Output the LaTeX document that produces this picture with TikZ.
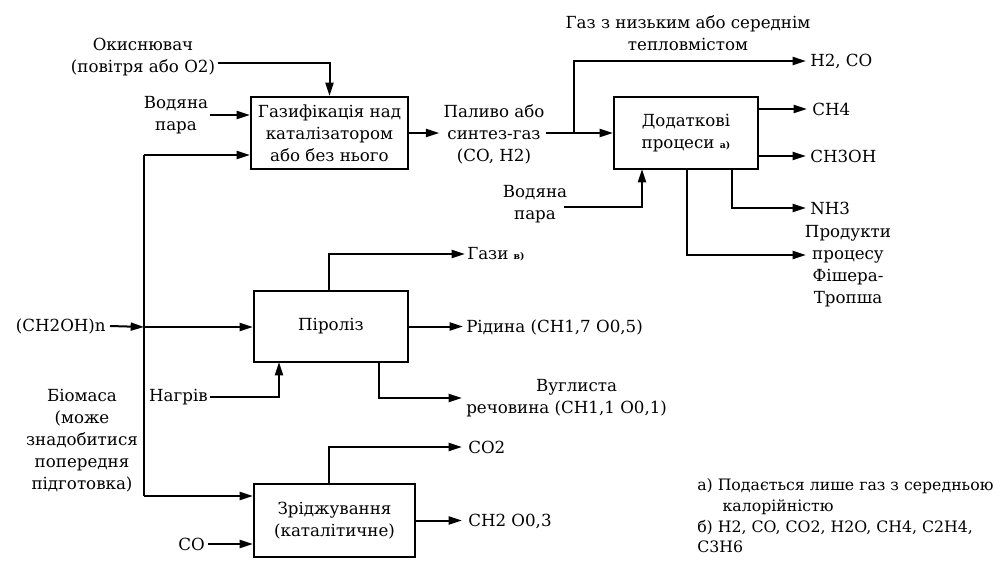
\documentclass[tikz,border=0pt]{standalone}
\usepackage{fontspec}
\setmainfont{DejaVu Serif}
\usetikzlibrary{arrows.meta,calc}
\tikzset{
  box/.style={draw,line width=1.5pt,inner sep=2pt,align=center},
  lbl/.style={inner sep=0pt,align=center},
  arr/.style={line width=1.5pt,-{Triangle[length=10pt,width=6pt]}},
  ln/.style={line width=1.5pt},
}
\newcommand{\fn}[1]{{\fontsize{7}{7}\selectfont\bfseries #1}}
\begin{document}
\begin{tikzpicture}[x=0.75pt,y=-0.75pt,font=\fontsize{12.5}{16.5}\selectfont]
\path[use as bounding box] (0,0) rectangle (1008,565);

% boxes
\node[box,minimum width=0.75pt*157,minimum height=0.75pt*72] (gas) at (329.5,133) {Газифікація над\\каталізатором\\або без нього};
\node[box,minimum width=0.75pt*144,minimum height=0.75pt*72] (add) at (686,133) {Додаткові\\процеси \fn{а)}};
\node[box,minimum width=0.75pt*154,minimum height=0.75pt*71] (pyr) at (331,326.5) {Піроліз};
\node[box,minimum width=0.75pt*161,minimum height=0.75pt*73] (liq) at (334.5,520.5) {Зріджування\\(каталітичне)};

% labels
\node[lbl] (ox) at (143,57) {Окиснювач\\(повітря або O2)};
\node[lbl] (st1) at (176,115) {Водяна\\пара};
\node[lbl,anchor=east] (chn) at (106,326) {(CH2OH)n};
\node[lbl] (bio) at (82,441) {Біомаса\\(може\\знадобитися\\попередня\\підготовка)};
\node[lbl,anchor=east] (heat) at (208,397) {Нагрів};
\node[lbl,anchor=east] (co) at (205,544) {CO};
\node[lbl] (fuel) at (494,134) {Паливо або\\синтез-газ\\(CO, H2)};
\node[lbl] (top) at (688,33) {Газ з низьким або середнім\\тепловмістом};
\node[lbl] (st2) at (535,204) {Водяна\\пара};
\node[lbl,anchor=west] (h2co) at (810,61) {H2, CO};
\node[lbl,anchor=west] (ch4) at (812,109) {CH4};
\node[lbl,anchor=west] (meoh) at (810,156) {CH3OH};
\node[lbl,anchor=west] (nh3) at (810,208) {NH3};
\node[lbl] (ft) at (848,266) {Продукти\\процесу\\Фішера-\\Тропша};
\node[lbl,anchor=west] (gases) at (467,254) {Гази \fn{в)}};
\node[lbl,anchor=west] (liquid) at (466,327) {Рідина (CH1,7 O0,5)};
\node[lbl,anchor=west] (char) at (466,398) {\hspace*{15pt}Вуглиста\\речовина (CH1,1 O0,1)};
\node[lbl,anchor=west] (co2) at (468,447) {CO2};
\node[lbl,anchor=west] (ch2o) at (468,521) {CH2 O0,3};
\node[lbl,anchor=north west,font=\fontsize{11.8}{15.5}\selectfont] (notes) at (697,476) {\begin{tabular}{@{}l@{}}а) Подається лише газ з середньою\\\hspace*{19pt}калорійністю\\б) H2, CO, CO2, H2O, CH4, C2H4,\\C3H6\end{tabular}};

% coordinates
\coordinate (oxs) at (218,63);
\coordinate (vtop) at (144,155);
\coordinate (vmid) at (144,327);
\coordinate (vbot) at (144,496);
\coordinate (pyrin) at (279,362);
\coordinate (pyrtop) at (329,291);
\coordinate (pyrbot) at (379,362);
\coordinate (liqtop) at (329,484);
\coordinate (br) at (574,133);
\coordinate (addb1) at (732,169);
\coordinate (addb2) at (687,169);
\coordinate (addin) at (642,169);
\coordinate (ftin) at (806,255);
\coordinate (st2s) at (564,207);
\coordinate (fuelo) at (546,133);

% connectors
\draw[arr] (oxs) -| (gas.north);
\draw[arr] (st1.east) ++(2,0) -- (st1.east -| gas.west);
\draw[ln] (vbot) -- (vtop);
\draw[arr] (vtop) -- (vtop -| gas.west);
\draw[arr] (vbot) -- (vbot -| liq.west);
\draw[arr] (chn.east) ++(4,0) -- (vmid);
\draw[arr] (vmid) -- (vmid -| pyr.west);
\draw[arr] (heat.east) ++(2,0) -| (pyrin);
\draw[arr] (co.east) ++(3,0) -- (co.east -| liq.west);
\draw[arr] (pyrtop) |- ($(gases.west)+(-2,0)$);
\draw[arr] (pyr.east) -- ($(liquid.west |- pyr.east)+(-3,0)$);
\draw[arr] (pyrbot) |- ($(char.west)+(-4,0)$);
\draw[arr] (liqtop) |- ($(co2.west)+(-6,0)$);
\draw[arr] (liq.east) -- ($(ch2o.west |- liq.east)+(-6,0)$);
\draw[arr] (gas.east) -- ($(fuel.west |- gas.east)+(-4,0)$);
\draw[arr] (fuelo) -- (add.west);
\draw[arr] (br) |- ($(h2co.west)+(-4,0)$);
\draw[arr] (ch4.west -| add.east) -- ($(ch4.west)+(-5,0)$);
\draw[arr] (meoh.west -| add.east) -- ($(meoh.west)+(-4,0)$);
\draw[arr] (addb1) |- ($(nh3.west)+(-4,0)$);
\draw[arr] (addb2) |- (ftin);
\draw[arr] (st2s) -| (addin);
\end{tikzpicture}
\end{document}
